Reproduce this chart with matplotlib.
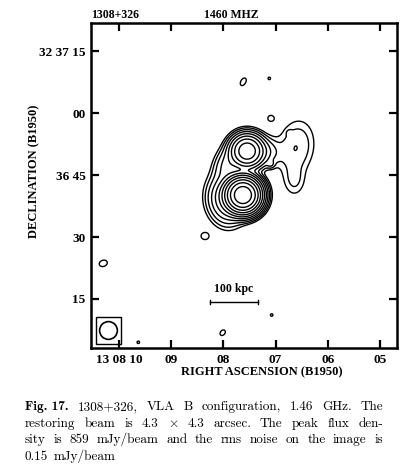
import numpy as np
import matplotlib
matplotlib.use("Agg")
import matplotlib.pyplot as plt
from matplotlib.patches import Rectangle, Ellipse

# ---------------- data ----------------
ra_ticks = [10, 9, 8, 7, 6, 5]            # RA seconds (13h 08m xx s)
ra_labels = ["13 08 10", "09", "08", "07", "06", "05"]
dec_ticks = [75, 60, 45, 30, 15]          # Dec offset in arcsec from 32d36m00s
dec_labels = ["32 37 15", "00", "36 45", "30", "15"]

# Gaussian model components of the radio map
comp_ra   = [7.625, 7.548, 7.950, 7.912, 7.261, 6.610, 6.640, 6.738, 7.094,
             7.088, 7.619, 7.121, 10.301, 8.013, 7.075, 9.630, 8.352]
comp_dec  = [40.16, 50.80, 38.95, 47.42, 50.56, 51.60, 43.80, 55.23, 47.66,
             58.72, 67.57, 68.39, 23.63, 6.84, 11.12, 4.52, 30.24]
comp_amp  = [860.0, 100.0, 12.0, 5.0, 4.0, 1.8, 1.0, 0.6, 1.5,
             0.74, 0.74, 0.74, 0.74, 0.74, 0.74, 0.74, 0.74]
comp_smaj = [1.83, 1.83, 2.9, 2.66, 2.42, 3.9, 2.4, 0.5, 0.6,
             0.75, 1.0, 0.3, 1.0, 0.75, 0.3, 0.3, 0.95]
comp_smin = [1.83, 1.83, 2.18, 1.7, 1.94, 2.55, 1.6, 0.5, 0.6,
             0.70, 0.6, 0.3, 0.75, 0.55, 0.3, 0.3, 0.85]
comp_pa   = [0, 0, 100, 70, 0, 80, 90, 0, 0,
             0, 60, 0, 20, 50, 0, 0, 0]

rms = 0.15                                 # mJy/beam
levels = 3 * rms * 2.0 ** np.arange(11)    # contour levels
beam_fwhm = 4.3                            # arcsec
scalebar_arcsec = 11.6                     # 100 kpc
ARCSEC_PER_S = 15 * np.cos(np.radians(32.6))

# ---------------- figure ----------------
W, H = 406, 470
fig = plt.figure(figsize=(W / 100, H / 100), dpi=100)

def fx(px):
    return px / W

def fy(py):
    return 1 - py / H

ax_l, ax_r, ax_t, ax_b = 91, 397, 23, 348
ax = fig.add_axes([fx(ax_l), fy(ax_b), (ax_r - ax_l) / W, (ax_b - ax_t) / H])
xlim = (10.536, 4.674)
ylim = (3.14, 81.8)

ra = np.linspace(xlim[1], xlim[0], 800)
dec = np.linspace(ylim[0], ylim[1], 850)
X, Y = np.meshgrid(ra, dec)
field = np.zeros_like(X)
for r0, d0, a, smj, smn, pa in zip(comp_ra, comp_dec, comp_amp, comp_smaj, comp_smin, comp_pa):
    u = -(X - r0) * ARCSEC_PER_S
    v = Y - d0
    t = np.radians(pa)
    p = u * np.cos(t) + v * np.sin(t)
    q = -u * np.sin(t) + v * np.cos(t)
    field += a * np.exp(-(p ** 2 / (2 * smj ** 2) + q ** 2 / (2 * smn ** 2)))

ax.contour(X, Y, field, levels=levels, colors="black", linewidths=1.0)

ax.set_xlim(*xlim)
ax.set_ylim(*ylim)

serif_bold = dict(family="Liberation Serif", weight="bold")
ax.set_xticks(ra_ticks)
ax.set_xticklabels(ra_labels, fontdict=dict(size=9.5, **serif_bold))
ax.set_yticks(dec_ticks)
ax.set_yticklabels(dec_labels, fontdict=dict(size=9.5, **serif_bold))
ax.tick_params(direction="in", length=6, width=1.6, top=True, right=True, pad=4)
for s in ax.spines.values():
    s.set_linewidth(1.8)

# beam box
bx0, bx1 = 10.44, 9.962
by0, by1 = 4.11, 10.64
ax.add_patch(Rectangle((bx1, by0), bx0 - bx1, by1 - by0, fill=False, lw=1.0, color="black"))
ax.add_patch(Ellipse(((bx0 + bx1) / 2, (by0 + by1) / 2), beam_fwhm / ARCSEC_PER_S, beam_fwhm,
                     fill=False, lw=1.2, color="black"))

# scale bar
sb_c, sb_y = 7.797, 14.27
half = scalebar_arcsec / ARCSEC_PER_S / 2
ax.plot([sb_c + half, sb_c - half], [sb_y, sb_y], color="black", lw=1.0)
for e in (sb_c + half, sb_c - half):
    ax.plot([e, e], [sb_y - 0.6, sb_y + 0.6], color="black", lw=1.0)
ax.text(sb_c, sb_y + 1.6, "100 kpc", ha="center", va="bottom", size=8.5, **serif_bold)

# titles and axis labels
fig.text(fx(91), fy(18.5), "1308+326", ha="left", va="baseline", size=8.5, **serif_bold)
fig.text(fx(204), fy(18.5), "1460 MHZ", ha="left", va="baseline", size=8.5, **serif_bold)
fig.text(fx(262), fy(372), "RIGHT ASCENSION (B1950)", ha="center", va="center", size=9, **serif_bold)
fig.text(fx(34), fy(171), "DECLINATION (B1950)", ha="center", va="center", rotation=90, size=9, **serif_bold)

# caption, justified
plt.rcParams["mathtext.fontset"] = "cm"
cap_size = 9.5
cap_lines = [
    [("Fig. 17.", "b"), ("1308+326,", "r"), ("VLA", "r"), ("B", "r"), ("configuration,", "r"),
     ("1.46", "r"), ("GHz.", "r"), ("The", "r")],
    [("restoring", "r"), ("beam", "r"), ("is", "r"), ("4.3", "r"), (r"$\times$", "r"), ("4.3", "r"),
     ("arcsec.", "r"), ("The", "r"), ("peak", "r"), ("flux", "r"), ("den-", "r")],
    [("sity", "r"), ("is", "r"), ("859", "r"), ("mJy/beam", "r"), ("and", "r"), ("the", "r"),
     ("rms", "r"), ("noise", "r"), ("on", "r"), ("the", "r"), ("image", "r"), ("is", "r")],
    [("0.15", "r"), ("mJy/beam", "r")],
]
cap_base = [410, 426.7, 443.4, 460]
cap_x0, cap_x1 = 25, 383
renderer = fig.canvas.get_renderer()
for i, (words, base) in enumerate(zip(cap_lines, cap_base)):
    texts = []
    for w, style in words:
        fam = "cmb10" if style == "b" else "cmr10"
        t = fig.text(0, fy(base), w, ha="left", va="baseline", size=cap_size, family=fam)
        texts.append(t)
    widths = [t.get_window_extent(renderer).width for t in texts]
    if i < len(cap_lines) - 1:
        gap = (cap_x1 - cap_x0 - sum(widths)) / (len(texts) - 1)
    else:
        gap = 0.38 * cap_size * 100 / 72
    x = cap_x0
    for t, w in zip(texts, widths):
        t.set_x(fx(x))
        x += w + gap

fig.savefig("out.png", dpi=100)
